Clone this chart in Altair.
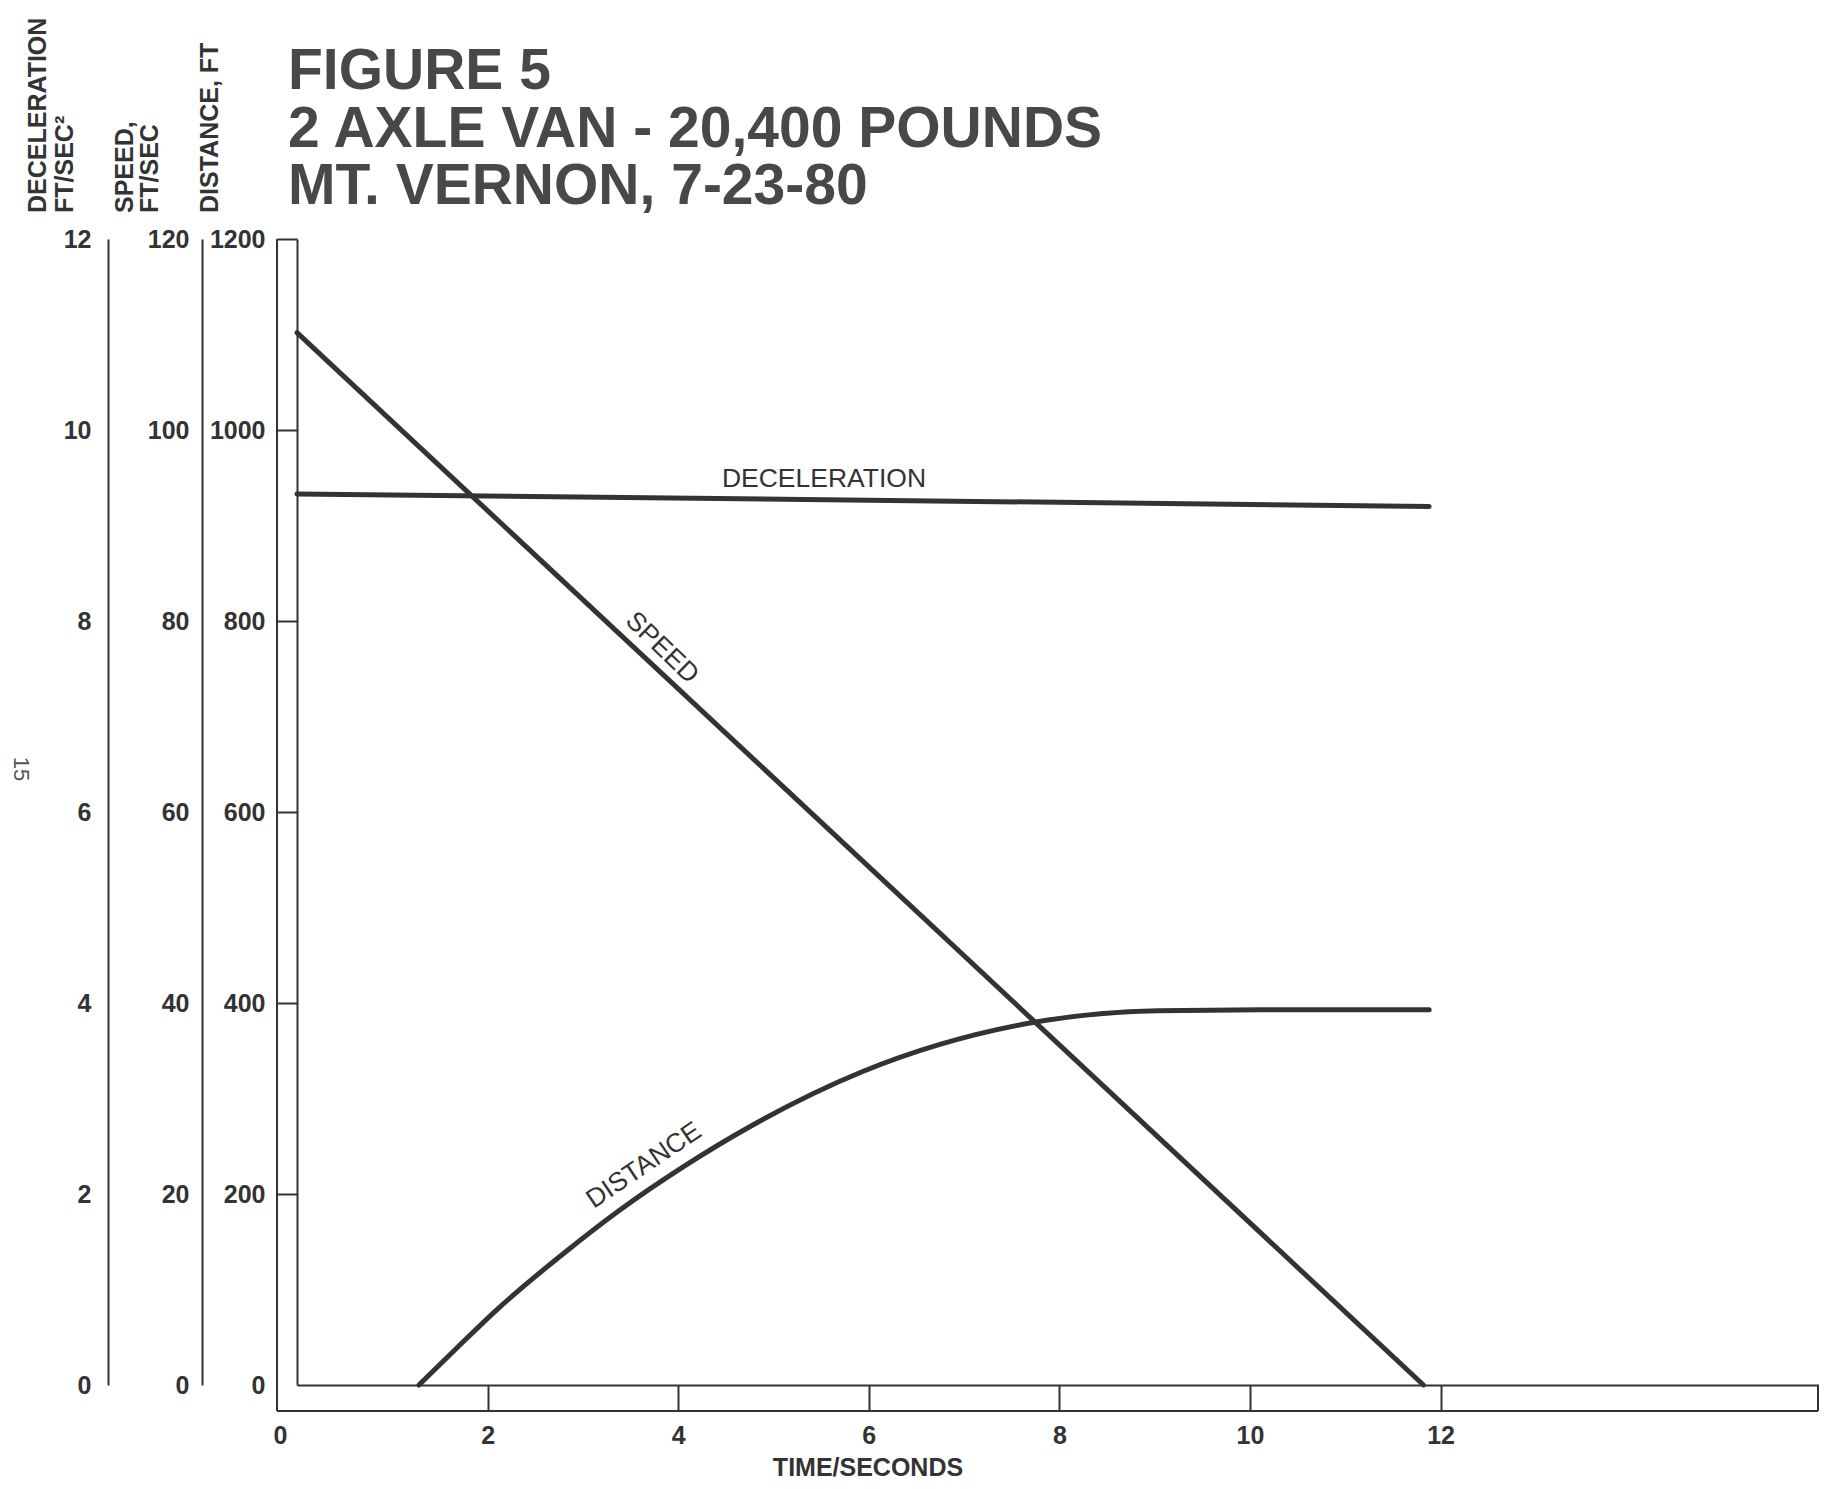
import altair as alt
import pandas as pd

# ---------------- data ----------------
time_distance = [1.28, 1.69, 2.11, 2.80, 3.37, 4.06, 4.76, 5.93, 7.69, 9.03, 10.11, 11.88]
distance_ft = [0, 40, 80, 138, 182, 229, 271, 328, 379, 392, 393, 393]

time_speed = [0.0, 11.82]
speed_fps = [110.2, 0.0]

time_decel = [0.0, 11.88]
decel_fps2 = [9.33, 9.20]

time_ticks = [0, 2, 4, 6, 8, 10, 12]
decel_ticks = [0, 2, 4, 6, 8, 10, 12]
speed_ticks = [0, 20, 40, 60, 80, 100, 120]
dist_ticks = [0, 200, 400, 600, 800, 1000, 1200]

headline = ["FIGURE 5", "2 AXLE VAN - 20,400 POUNDS", "MT. VERNON, 7-23-80"]
x_title = "TIME/SECONDS"

curve_label_text = ["DECELERATION", "SPEED", "DISTANCE"]
curve_label_time = [5.53, 3.83, 3.64]
curve_label_value = [9.49, 77.2, 230]     # each on its own curve's scale
curve_label_angle = [0, 44, 326]

# ---------------- styling ----------------
FONT = "Liberation Sans"
INK = "#333333"
HEAD_INK = "#484848"
W, H = 1522, 1146
PX_PER_S = 95.3
X_MAX = W / PX_PER_S
BAND = 26
TICK_FS = 25

x_scale = alt.Scale(domain=[0, X_MAX], nice=False, zero=False)
dist_scale = alt.Scale(domain=[0, 1200], nice=False)
speed_scale = alt.Scale(domain=[0, 120], nice=False)
decel_scale = alt.Scale(domain=[0, 12], nice=False)

zero_hidden = {"condition": {"test": "datum.value === 0", "value": 0}, "value": 1}

# one shared x axis definition, given identically to every layer that uses x
x_axis = alt.Axis(
    orient="bottom", values=time_ticks, format="d", grid=False,
    domainColor=INK, domainWidth=2,
    tickColor=INK, tickWidth=2, tickSize=BAND, tickOpacity=zero_hidden,
    labelFont=FONT, labelFontSize=TICK_FS, labelFontWeight="bold", labelColor=INK,
    labelPadding=12, labelFlush=False, labelOverlap=False,
    labelOffset={"condition": {"test": "datum.value === 0", "value": -17}, "value": 0},
    title=None,
)


def left_axis(values, offset, pad, ticks, tick_size=0):
    kw = dict(
        orient="left", values=values, offset=offset, format="d", grid=False,
        domainColor=INK, domainWidth=2,
        labelFont=FONT, labelFontSize=TICK_FS, labelFontWeight="bold", labelColor=INK,
        labelPadding=pad, labelFlush=False, labelOverlap=False, title=None,
    )
    if ticks:
        kw.update(ticks=True, tickSize=tick_size, tickColor=INK, tickWidth=2,
                  tickOpacity=zero_hidden)
    else:
        kw.update(ticks=False)
    return alt.Axis(**kw)


dist_axis = left_axis(dist_ticks, 0, 12, True, 20)
speed_axis = left_axis(speed_ticks, 95, 13, False)
decel_axis = left_axis(decel_ticks, 189, 17, False)

line_kw = dict(color=INK, strokeWidth=5, strokeCap="round")
label_kw = dict(font=FONT, fontSize=26.5, color=INK, align="center", baseline="middle")

one = pd.DataFrame({"k": [0]})


def curve(times, values, scale, axis, interp="linear"):
    df = pd.DataFrame({"t": times, "v": values})
    return alt.Chart(df).mark_line(interpolate=interp, **line_kw).encode(
        x=alt.X("t:Q", scale=x_scale, axis=x_axis),
        y=alt.Y("v:Q", scale=scale, axis=axis),
    )


def curve_label(i, scale):
    df = pd.DataFrame({"t": [curve_label_time[i]], "v": [curve_label_value[i]],
                       "s": [curve_label_text[i]]})
    return alt.Chart(df).mark_text(angle=curve_label_angle[i], **label_kw).encode(
        x=alt.X("t:Q", scale=x_scale, axis=x_axis),
        y=alt.Y("v:Q", scale=scale, axis=None),
        text="s:N",
    )


dist_line = curve(time_distance, distance_ft, dist_scale, dist_axis, "monotone")
speed_line = curve(time_speed, speed_fps, speed_scale, speed_axis)
decel_line = curve(time_decel, decel_fps2, decel_scale, decel_axis)

labels = [curve_label(0, decel_scale), curve_label(1, speed_scale), curve_label(2, dist_scale)]

# frame pieces of the drawn axis band (outer left edge, bottom edge, right end)
frame_kw = dict(color=INK, strokeWidth=2)
frame = [
    alt.Chart(one).mark_rule(**frame_kw).encode(
        x=alt.value(-20), y=alt.value(0), y2=alt.value(H + BAND)),
    alt.Chart(one).mark_rule(**frame_kw).encode(
        x=alt.value(-20), x2=alt.value(W - 1), y=alt.value(H + BAND)),
    alt.Chart(one).mark_rule(**frame_kw).encode(
        x=alt.value(W - 1), y=alt.value(H), y2=alt.value(H + BAND)),
]

statics = []
for i, line in enumerate(headline):
    statics.append(
        alt.Chart(one).mark_text(
            font=FONT, fontSize=57, fontWeight="bold", color=HEAD_INK,
            align="left", baseline="alphabetic",
        ).encode(x=alt.value(-9), y=alt.value(-150 + i * 57.5), text=alt.value(line))
    )

axis_titles = [("DECELERATION", -259), ("FT/SEC\u00b2", -232), ("SPEED,", -172),
               ("FT/SEC", -147), ("DISTANCE, FT", -87)]
for txt, xpos in axis_titles:
    statics.append(
        alt.Chart(one).mark_text(
            font=FONT, fontSize=25, fontWeight="bold", color=INK,
            align="left", baseline="middle", angle=270,
        ).encode(x=alt.value(xpos), y=alt.value(-26), text=alt.value(txt))
    )

statics.append(
    alt.Chart(one).mark_text(
        font=FONT, fontSize=25, fontWeight="bold", color=INK,
        align="center", baseline="middle",
    ).encode(x=alt.value(571), y=alt.value(H + 83), text=alt.value(x_title))
)

statics.append(
    alt.Chart(one).mark_text(
        font=FONT, fontSize=22, color="#555555", align="center", baseline="middle", angle=90,
    ).encode(x=alt.value(-276), y=alt.value(530), text=alt.value("15"))
)

chart = (
    alt.layer(dist_line, speed_line, decel_line, *labels, *frame, *statics)
    .resolve_scale(y="independent", x="shared")
    .properties(
        width=W, height=H,
        autosize=alt.AutoSizeParams(type="none"),
        padding={"left": 289, "top": 231, "right": 0, "bottom": 96},
        background="white",
    )
    .configure_view(stroke=None)
)

chart.save("out.html", embed_options={"renderer": "svg", "actions": False})
